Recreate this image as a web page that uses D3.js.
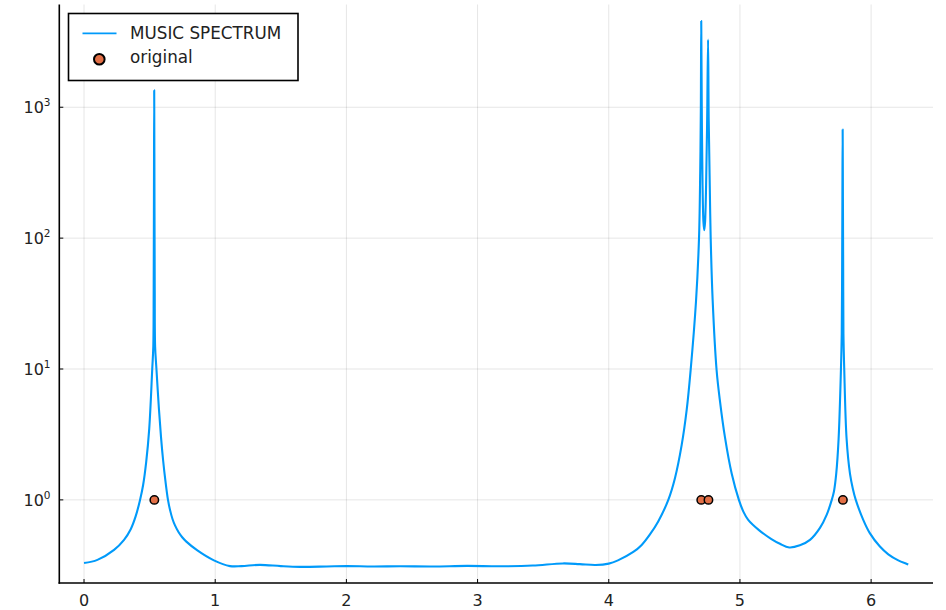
<!DOCTYPE html>
<html>
<head>
<meta charset="utf-8">
<script src="https://cdn.jsdelivr.net/npm/d3@7"></script>
<style>
  html, body { margin: 0; padding: 0; background: #fff; }
  svg { display: block; font-family: "DejaVu Sans", sans-serif; }
</style>
</head>
<body>
<svg id="chart" width="946" height="610"></svg>
<script>
// MUSIC pseudospectrum sampled over [0, 2π] (frequency, power)
const specFreq = [
  0.000, 0.102, 0.229, 0.305, 0.356, 0.394, 0.427, 0.4505, 0.474, 0.497,
  0.520, 0.528, 0.531, 0.533, 0.535, 0.537, 0.539, 0.542, 0.552, 0.571,
  0.587, 0.603, 0.620, 0.640, 0.6555, 0.675, 0.6935, 0.720, 0.7485, 0.780,
  0.864, 0.990, 1.113, 1.20, 1.34, 1.50, 1.646, 1.85, 2.0, 2.2,
  2.41, 2.66, 2.92, 3.17, 3.42, 3.65, 3.78, 3.90, 4.00, 4.07,
  4.187, 4.251, 4.314, 4.377, 4.454, 4.505, 4.556, 4.594, 4.624, 4.665,
  4.688, 4.697, 4.702, 4.705, 4.709, 4.715, 4.722, 4.728, 4.734, 4.742,
  4.750, 4.757, 4.762, 4.770, 4.777, 4.792, 4.822, 4.848, 4.886, 4.937,
  4.992, 5.027, 5.063, 5.145, 5.240, 5.305, 5.376, 5.457, 5.534, 5.61,
  5.661, 5.700, 5.717, 5.734, 5.752, 5.770, 5.776, 5.779, 5.781, 5.783,
  5.785, 5.787, 5.789, 5.795, 5.813, 5.839, 5.861, 5.883, 5.94, 5.99,
  6.067, 6.131, 6.207, 6.27, 6.283
];
const specPower = [
  0.329, 0.348, 0.415, 0.495, 0.597, 0.751, 1.0, 1.30, 1.954, 3.49,
  10, 14.8, 40, 200, 1350, 200, 40, 14.8, 10, 4.95,
  3.0, 2.0, 1.41, 1.0, 0.839, 0.711, 0.638, 0.568, 0.518, 0.480,
  0.411, 0.345, 0.312, 0.312, 0.319, 0.312, 0.308, 0.310, 0.312, 0.310,
  0.311, 0.310, 0.313, 0.311, 0.315, 0.327, 0.323, 0.318, 0.326, 0.345,
  0.400, 0.453, 0.545, 0.685, 1.0, 1.47, 2.63, 4.87, 9.77, 32.8,
  100, 316, 1000, 4560, 1000, 251, 132, 115, 132, 251,
  794, 3290, 794, 251, 100, 33.6, 9.83, 5.66, 3.00, 1.59,
  1.0, 0.810, 0.704, 0.588, 0.502, 0.462, 0.433, 0.45, 0.495, 0.611,
  0.768, 1.0, 1.165, 1.585, 2.91, 10, 18.6, 60, 200, 676,
  200, 60, 18.6, 10, 2.93, 1.58, 1.213, 1.0, 0.704, 0.557,
  0.440, 0.384, 0.345, 0.325, 0.321
];

// true source frequencies
const origFreq = [0.536, 4.705, 4.760, 5.785];
const origPower = [1, 1, 1, 1];

const xTicks = [0, 1, 2, 3, 4, 5, 6];
const yTicks = [1, 10, 100, 1000];
const seriesNames = ["MUSIC SPECTRUM", "original"];

const lineColor = "#009AFA";
const dotColor = "#E26F46";

const svg = d3.select("#chart");
const plotL = 59.3, plotR = 933, plotT = 4.5, plotB = 583;

const span = 2 * Math.PI;
const x = d3.scaleLinear()
  .domain([-0.03 * span, span * 1.03])
  .range([plotL, plotR]);
const y = d3.scaleLog()
  .domain([Math.pow(10, -0.635), Math.pow(10, 3.785)])
  .range([plotB, plotT]);

// grid
const grid = svg.append("g").attr("stroke", "#000").attr("stroke-opacity", 0.1).attr("stroke-width", 1);
grid.selectAll("line.gx").data(xTicks).join("line")
  .attr("x1", d => x(d)).attr("x2", d => x(d))
  .attr("y1", plotT).attr("y2", plotB);
grid.selectAll("line.gy").data(yTicks).join("line")
  .attr("x1", plotL).attr("x2", plotR)
  .attr("y1", d => y(d)).attr("y2", d => y(d));

// spectrum line
const pts = specFreq.map((f, i) => [f, specPower[i]]);
const line = d3.line()
  .x(d => x(d[0]))
  .y(d => y(d[1]))
  .curve(d3.curveCatmullRom.alpha(0.5));
svg.append("path")
  .datum(pts)
  .attr("fill", "none")
  .attr("stroke", lineColor)
  .attr("stroke-width", 2.1)
  .attr("stroke-linejoin", "round")
  .attr("d", line);

// original frequencies
svg.append("g").selectAll("circle")
  .data(origFreq.map((f, i) => [f, origPower[i]]))
  .join("circle")
  .attr("cx", d => x(d[0]))
  .attr("cy", d => y(d[1]))
  .attr("r", 4.2)
  .attr("fill", dotColor)
  .attr("stroke", "#000")
  .attr("stroke-width", 1.5);

// axes
const axes = svg.append("g").attr("stroke", "#000");
axes.append("line").attr("x1", plotL).attr("x2", plotL).attr("y1", plotT).attr("y2", plotB + 0.75).attr("stroke-width", 1.6);
axes.append("line").attr("x1", plotL - 0.75).attr("x2", plotR).attr("y1", plotB).attr("y2", plotB).attr("stroke-width", 1.6);
axes.selectAll("line.tx").data(xTicks).join("line")
  .attr("x1", d => x(d)).attr("x2", d => x(d))
  .attr("y1", plotB).attr("y2", plotB - 4).attr("stroke-width", 1);
axes.selectAll("line.ty").data(yTicks).join("line")
  .attr("x1", plotL).attr("x2", plotL + 4)
  .attr("y1", d => y(d)).attr("y2", d => y(d)).attr("stroke-width", 1);

// tick labels
svg.append("g").selectAll("text").data(xTicks).join("text")
  .attr("x", d => x(d)).attr("y", 606)
  .attr("text-anchor", "middle")
  .attr("font-size", 16).attr("fill", "#222")
  .text(d => d);

const yl = svg.append("g").selectAll("text").data(yTicks).join("text")
  .attr("x", 50.5).attr("y", d => y(d) + 6)
  .attr("text-anchor", "end")
  .attr("font-size", 16).attr("fill", "#222");
yl.append("tspan").text("10");
yl.append("tspan").attr("dy", -7).attr("font-size", 10.5).text(d => Math.round(Math.log10(d)));

// legend
const lg = svg.append("g");
lg.append("rect").attr("x", 68.5).attr("y", 13.5).attr("width", 229.5).attr("height", 67)
  .attr("fill", "#fff").attr("stroke", "#000").attr("stroke-width", 1.6);
lg.append("line").attr("x1", 82.5).attr("x2", 116.5).attr("y1", 33.3).attr("y2", 33.3)
  .attr("stroke", lineColor).attr("stroke-width", 1.8);
lg.append("circle").attr("cx", 99.3).attr("cy", 59.3).attr("r", 5.3)
  .attr("fill", dotColor).attr("stroke", "#000").attr("stroke-width", 2);
lg.selectAll("text").data(seriesNames).join("text")
  .attr("x", 130).attr("y", (d, i) => 39.3 + i * 24)
  .attr("font-size", 16.8).attr("fill", "#222")
  .text(d => d);
</script>
</body>
</html>
